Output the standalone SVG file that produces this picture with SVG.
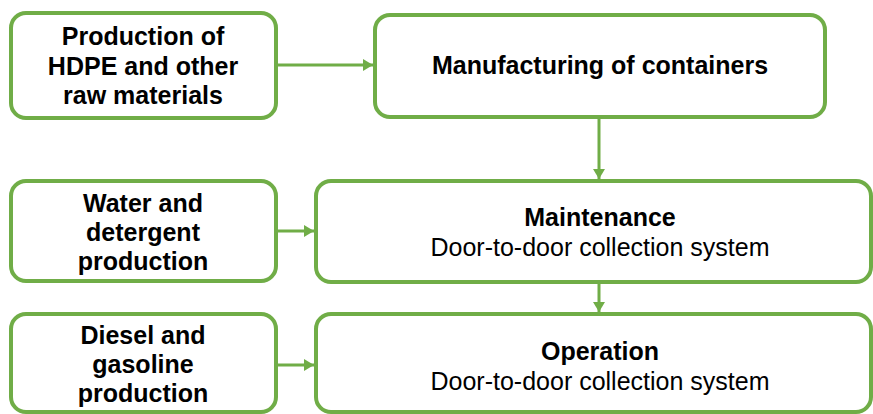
<svg xmlns="http://www.w3.org/2000/svg" width="873" height="414" viewBox="0 0 873 414">
<defs>
<style>
.box{fill:#ffffff;stroke:#70AD47;stroke-width:4}
.con{stroke:#70AD47;stroke-width:3;fill:none}
text{font-family:"Liberation Sans",Arial,sans-serif;font-size:25px;fill:#000000;text-anchor:middle}
.b{font-weight:bold}
</style>
<marker id="ah" viewBox="0 0 10 12" refX="10" refY="6" markerWidth="10" markerHeight="12" markerUnits="userSpaceOnUse" orient="auto">
<path d="M0,0 L10,6 L0,12 Z" fill="#70AD47"/>
</marker>
</defs>
<rect width="873" height="414" fill="#ffffff"/>
<g id="connectors">
<line class="con" x1="277" y1="65" x2="373" y2="65" marker-end="url(#ah)"/>
<line class="con" x1="599" y1="118" x2="599" y2="179" marker-end="url(#ah)"/>
<line class="con" x1="277" y1="231" x2="314" y2="231" marker-end="url(#ah)"/>
<line class="con" x1="599" y1="283" x2="599" y2="312" marker-end="url(#ah)"/>
<line class="con" x1="277" y1="365" x2="314" y2="365" marker-end="url(#ah)"/>
</g>
<g id="n1">
<rect class="box" x="11" y="13" width="265" height="105" rx="15"/>
<text class="b" x="143" y="45">Production of</text>
<text class="b" x="143" y="75">HDPE and other</text>
<text class="b" x="143" y="104">raw materials</text>
</g>
<g id="n2">
<rect class="box" x="375" y="15" width="450" height="102" rx="15"/>
<text class="b" x="600" y="74">Manufacturing of containers</text>
</g>
<g id="n3">
<rect class="box" x="11" y="181" width="265" height="100" rx="15"/>
<text class="b" x="143" y="212">Water and</text>
<text class="b" x="143" y="241">detergent</text>
<text class="b" x="143" y="270">production</text>
</g>
<g id="n4">
<rect class="box" x="316" y="181" width="555" height="101" rx="15"/>
<text class="b" x="600" y="226">Maintenance</text>
<text x="600" y="256">Door-to-door collection system</text>
</g>
<g id="n5">
<rect class="box" x="11" y="314" width="265" height="98" rx="15"/>
<text class="b" x="143" y="344">Diesel and</text>
<text class="b" x="143" y="373">gasoline</text>
<text class="b" x="143" y="402">production</text>
</g>
<g id="n6">
<rect class="box" x="316" y="314" width="555" height="98" rx="15"/>
<text class="b" x="600" y="360">Operation</text>
<text x="600" y="390">Door-to-door collection system</text>
</g>
</svg>
